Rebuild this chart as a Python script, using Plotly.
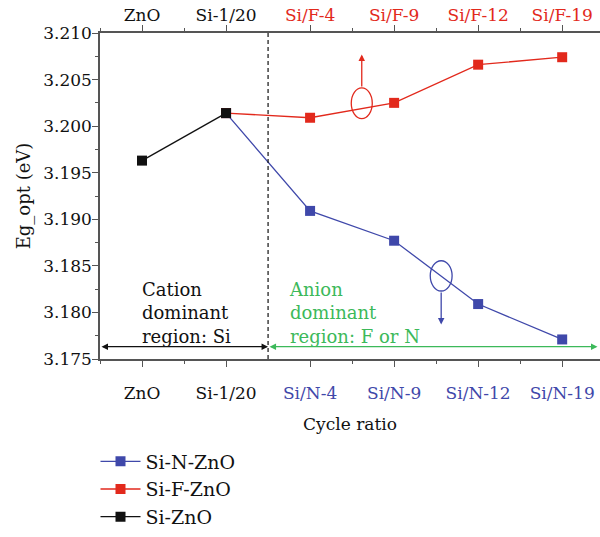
import plotly.graph_objects as go

# ---- data ----
positions = [0, 1, 2, 3, 4, 5]
bottom_labels = ["ZnO", "Si-1/20", "Si/N-4", "Si/N-9", "Si/N-12", "Si/N-19"]
top_labels = ["ZnO", "Si-1/20", "Si/F-4", "Si/F-9", "Si/F-12", "Si/F-19"]

si_zno_x = [0, 1]
si_zno_y = [3.1963, 3.2014]
si_f_x = [1, 2, 3, 4, 5]
si_f_y = [3.2014, 3.2009, 3.2025, 3.2066, 3.2074]
si_n_x = [1, 2, 3, 4, 5]
si_n_y = [3.2014, 3.1909, 3.1877, 3.1809, 3.1771]

BLUE = "#3f48aa"
RED = "#e2291c"
BLACK = "#111111"
GREEN = "#3cb95a"
AX = "#555555"
FONT = "DejaVu Serif"
TF = 17

def colored(labels, color):
    out = []
    for i, l in enumerate(labels):
        c = BLACK if i < 2 else color
        out.append(f'<span style="color:{c}">{l}</span>')
    return out

fig = go.Figure()
fig.add_trace(go.Scatter(x=si_n_x, y=si_n_y, mode="lines+markers", name="Si-N-ZnO",
                         line=dict(color=BLUE, width=1.3),
                         marker=dict(symbol="square", size=10, color=BLUE)))
fig.add_trace(go.Scatter(x=si_f_x, y=si_f_y, mode="lines+markers", name="Si-F-ZnO",
                         line=dict(color=RED, width=1.3),
                         marker=dict(symbol="square", size=10, color=RED)))
fig.add_trace(go.Scatter(x=si_zno_x, y=si_zno_y, mode="lines+markers", name="Si-ZnO",
                         line=dict(color=BLACK, width=1.3),
                         marker=dict(symbol="square", size=10, color=BLACK)))
# invisible helper trace so the top axis is drawn
fig.add_trace(go.Scatter(x=si_f_x, y=si_f_y, xaxis="x2", mode="markers", showlegend=False,
                         hoverinfo="skip", marker=dict(opacity=0)))

xr = [-0.5, 5.45]
common_x = dict(range=xr, showline=True, linecolor=AX, linewidth=1.5, ticks="outside",
                ticklen=6, tickwidth=1.3, tickcolor=AX, showgrid=False, zeroline=False,
                automargin=False,
                tickmode="array", tickvals=positions,
                tickfont=dict(family=FONT, size=TF, color=BLACK),
                minor=dict(ticks="outside", ticklen=3, tickwidth=1.2, tickcolor=AX,
                           tickmode="array", tickvals=[-0.5, 0.5, 2.5, 3.5, 4.5]))

fig.update_layout(
    width=600, height=537,
    margin=dict(l=100, r=0, t=33, b=168),
    plot_bgcolor="white", paper_bgcolor="white",
    font=dict(family=FONT, size=TF, color=BLACK),
    xaxis=dict(**common_x, side="bottom", ticktext=colored(bottom_labels, BLUE),
               ticklabelstandoff=12,
               title=dict(text="Cycle ratio", font=dict(family=FONT, size=TF), standoff=16)),
    xaxis2=dict(**common_x, side="top", overlaying="x", ticktext=colored(top_labels, RED),
                ticklabelstandoff=-3),
    yaxis=dict(range=[3.175, 3.210], dtick=0.005, tickformat=".3f", showline=True,
               linecolor=AX, linewidth=1.5, ticks="outside", ticklen=6, tickwidth=1.3,
               tickcolor=AX, showgrid=False, zeroline=False, automargin=False,
               ticklabelstandoff=-3,
               tickfont=dict(family=FONT, size=TF, color=BLACK),
               minor=dict(ticks="outside", ticklen=3, tickwidth=1.2, tickcolor=AX, dtick=0.0025),
               title=dict(text="Eg_opt (eV)", font=dict(family=FONT, size=18), standoff=8)),
    legend=dict(x=-0.009, y=-0.256, xref="paper", yref="paper", xanchor="left", yanchor="top",
                font=dict(family=FONT, size=19, color=BLACK), bgcolor="rgba(0,0,0,0)",
                tracegroupgap=0, itemwidth=40),
    showlegend=True,
)

# dashed divider
fig.add_shape(type="line", x0=1.5, x1=1.5, y0=0, y1=1, xref="x", yref="paper",
              line=dict(color=BLACK, width=1.2, dash="4px,3px"))

# ellipses
fig.add_shape(type="circle", xref="x", yref="y", x0=2.49, x1=2.74, y0=3.2008, y1=3.2041,
              line=dict(color=RED, width=1.3))
fig.add_shape(type="circle", xref="x", yref="y", x0=3.43, x1=3.69, y0=3.1823, y1=3.18555,
              line=dict(color=BLUE, width=1.3))

# arrows from ellipses
fig.add_annotation(x=2.615, y=3.2077, ax=2.615, ay=3.2041, xref="x", yref="y", axref="x", ayref="y",
                   showarrow=True, arrowhead=2, arrowsize=1, arrowwidth=1.3, arrowcolor=RED, text="")
fig.add_annotation(x=3.56, y=3.1787, ax=3.56, ay=3.1823, xref="x", yref="y", axref="x", ayref="y",
                   showarrow=True, arrowhead=2, arrowsize=1, arrowwidth=1.3, arrowcolor=BLUE, text="")

# region arrows
fig.add_annotation(x=1.5, y=3.17632, ax=-0.5, ay=3.17632, xref="x", yref="y", axref="x", ayref="y",
                   showarrow=True, arrowhead=2, startarrowhead=2, arrowside="end+start",
                   arrowsize=1, arrowwidth=1.3, arrowcolor=BLACK, text="")
fig.add_annotation(x=5.42, y=3.17632, ax=1.5, ay=3.17632, xref="x", yref="y", axref="x", ayref="y",
                   showarrow=True, arrowhead=2, startarrowhead=2, arrowside="end+start",
                   arrowsize=1, arrowwidth=1.3, arrowcolor=GREEN, text="")

# region text
fig.add_annotation(x=-0.02, y=3.1761, xref="x", yref="y", xanchor="left", yanchor="bottom",
                   showarrow=False, align="left",
                   text="Cation<br>dominant<br>region: Si",
                   font=dict(family=FONT, size=18, color=BLACK))
fig.add_annotation(x=1.73, y=3.1761, xref="x", yref="y", xanchor="left", yanchor="bottom",
                   showarrow=False, align="left",
                   text="Anion<br>dominant<br>region: F or N",
                   font=dict(family=FONT, size=18, color=GREEN))

fig.write_html("out.html", config={"displayModeBar": False},
               post_script="document.body.style.margin='0';document.body.style.overflow='hidden';")
